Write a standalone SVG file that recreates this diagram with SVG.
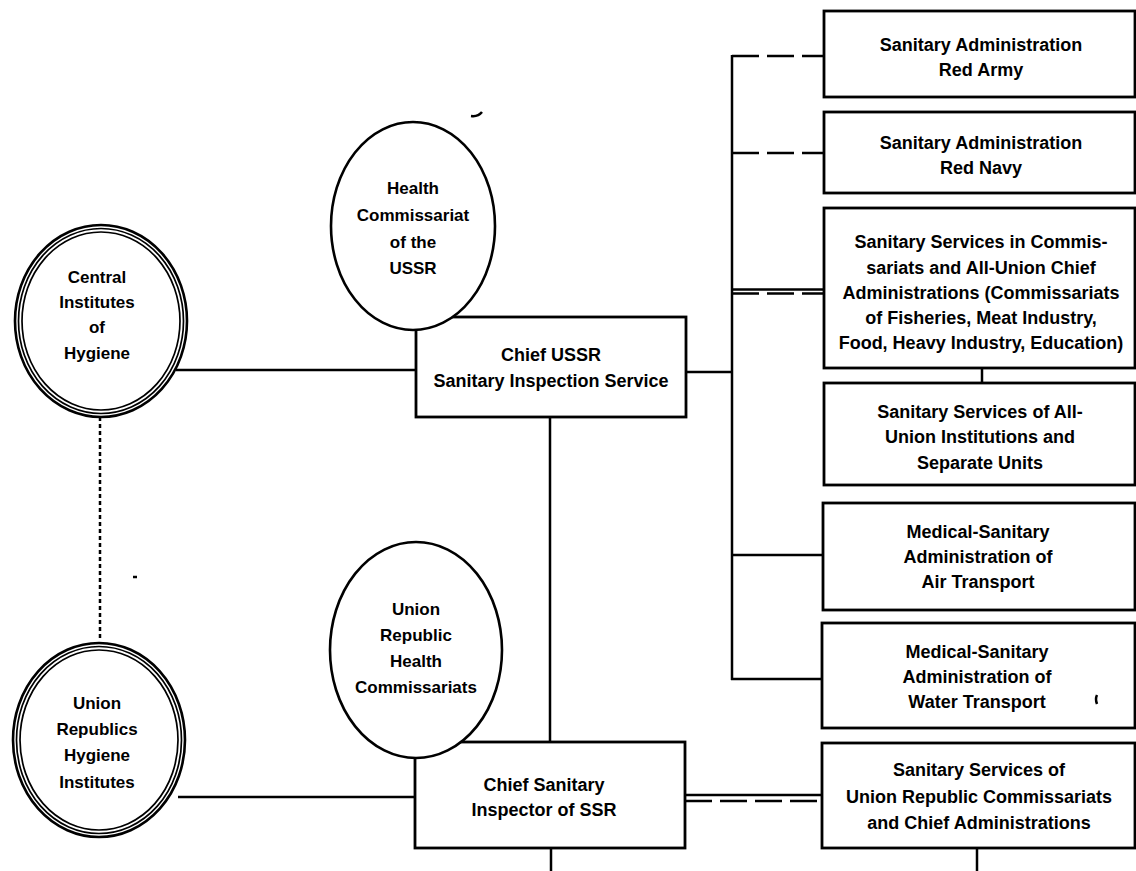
<svg xmlns="http://www.w3.org/2000/svg" width="1136" height="871" viewBox="0 0 1136 871">
<style>
  .ln { stroke:#000; stroke-width:2.5; fill:none; }
  .dash { stroke:#000; stroke-width:2.5; fill:none; stroke-dasharray:27 8; }
  .dot { stroke:#000; stroke-width:2.5; fill:none; stroke-dasharray:4 3; }
  .box { stroke:#000; stroke-width:2.8; fill:#fff; }
  .circ { stroke:#000; stroke-width:2.6; fill:#fff; }
  .ring { stroke:#000; stroke-width:1.7; fill:none; }
  .t { font-family:"Liberation Sans", Arial, sans-serif; font-weight:bold; font-size:18px; fill:#000; text-anchor:middle; }
  .tc { font-family:"Liberation Sans", Arial, sans-serif; font-weight:bold; font-size:17px; fill:#000; text-anchor:middle; }
</style>
<rect width="1136" height="871" fill="#fff"/>
<g id="connectors">
  <line class="ln" x1="176" y1="370" x2="416" y2="370"/>
  <line class="ln" x1="686" y1="372" x2="732" y2="372"/>
  <line class="ln" x1="732" y1="55" x2="732" y2="680"/>
  <line class="dash" x1="732" y1="56" x2="824" y2="56"/>
  <line class="dash" x1="732" y1="153" x2="824" y2="153" stroke-dasharray="22 10 4 5 20 8"/>
  <line class="ln" x1="732" y1="289.5" x2="824" y2="289.5" stroke-width="1.8"/>
  <line class="dash" x1="732" y1="293.5" x2="824" y2="293.5" stroke-width="2" stroke-dasharray="20 6"/>
  <line class="ln" x1="982" y1="368" x2="982" y2="383"/>
  <line class="ln" x1="732" y1="555" x2="824" y2="555"/>
  <line class="ln" x1="731" y1="679" x2="824" y2="679"/>
  <line class="ln" x1="550" y1="417" x2="550" y2="742"/>
  <line class="dot" x1="100" y1="417" x2="100" y2="641"/>
  <line class="ln" x1="178" y1="797" x2="415" y2="797"/>
  <line class="ln" x1="685" y1="795" x2="824" y2="795" stroke-width="1.8"/>
  <line class="dash" x1="685" y1="801" x2="824" y2="801" stroke-width="2" stroke-dasharray="14 5"/>
  <line class="ln" x1="551" y1="848" x2="551" y2="871"/>
  <line class="ln" x1="977" y1="848" x2="977" y2="871"/>
</g>
<g id="box-red-army">
  <rect class="box" x="824" y="11" width="311" height="86"/>
  <text class="t" x="981" y="51">Sanitary Administration</text>
  <text class="t" x="981" y="76">Red Army</text>
</g>
<g id="box-red-navy">
  <rect class="box" x="824" y="112" width="311" height="81"/>
  <text class="t" x="981" y="149">Sanitary Administration</text>
  <text class="t" x="981" y="174">Red Navy</text>
</g>
<g id="box-commissariats">
  <rect class="box" x="824" y="208" width="311" height="160"/>
  <text class="t" x="981" y="248">Sanitary Services in Commis-</text>
  <text class="t" x="981" y="274">sariats and All-Union Chief</text>
  <text class="t" x="981" y="299">Administrations (Commissariats</text>
  <text class="t" x="981" y="324">of Fisheries, Meat Industry,</text>
  <text class="t" x="981" y="349">Food, Heavy Industry, Education)</text>
</g>
<g id="box-all-union">
  <rect class="box" x="824" y="383" width="311" height="102"/>
  <text class="t" x="980" y="418">Sanitary Services of All-</text>
  <text class="t" x="980" y="443">Union Institutions and</text>
  <text class="t" x="980" y="469">Separate Units</text>
</g>
<g id="box-air">
  <rect class="box" x="823" y="503" width="312" height="107"/>
  <text class="t" x="978" y="538">Medical-Sanitary</text>
  <text class="t" x="978" y="563">Administration of</text>
  <text class="t" x="978" y="588">Air Transport</text>
</g>
<g id="box-water">
  <rect class="box" x="822" y="623" width="313" height="105"/>
  <text class="t" x="977" y="658">Medical-Sanitary</text>
  <text class="t" x="977" y="683">Administration of</text>
  <text class="t" x="977" y="708">Water Transport</text>
  <path class="ln" d="M1097 695 q-2 4 0 9" stroke-width="1.8"/>
</g>
<g id="box-union-republic-services">
  <rect class="box" x="822" y="743" width="313" height="105"/>
  <text class="t" x="979" y="776">Sanitary Services of</text>
  <text class="t" x="979" y="803">Union Republic Commissariats</text>
  <text class="t" x="979" y="829">and Chief Administrations</text>
</g>
<g id="box-chief-ussr">
  <rect class="box" x="416" y="317" width="270" height="100"/>
  <text class="t" x="551" y="361">Chief USSR</text>
  <text class="t" x="551" y="387">Sanitary Inspection Service</text>
</g>
<g id="box-chief-ssr">
  <rect class="box" x="415" y="742" width="270" height="106"/>
  <text class="t" x="544" y="791">Chief Sanitary</text>
  <text class="t" x="544" y="816">Inspector of SSR</text>
</g>
<g id="circle-health-ussr">
  <ellipse class="circ" cx="413" cy="226" rx="82" ry="104"/>
  <text class="tc" x="413" y="194">Health</text>
  <text class="tc" x="413" y="221">Commissariat</text>
  <text class="tc" x="413" y="248">of the</text>
  <text class="tc" x="413" y="274">USSR</text>
  <path class="ln" d="M471 116 q7 1 11 -4" stroke-width="2"/>
</g>
<g id="circle-union-republic-health">
  <ellipse class="circ" cx="416" cy="650" rx="86" ry="108"/>
  <text class="tc" x="416" y="615">Union</text>
  <text class="tc" x="416" y="641">Republic</text>
  <text class="tc" x="416" y="667">Health</text>
  <text class="tc" x="416" y="693">Commissariats</text>
</g>
<g id="circle-central-institutes">
  <ellipse class="circ" cx="101" cy="321" rx="86" ry="96" stroke-width="2.4"/>
  <ellipse class="ring" cx="101" cy="321" rx="82.5" ry="92.5"/>
  <ellipse class="ring" cx="101" cy="321" rx="79" ry="89"/>
  <text class="tc" x="97" y="283">Central</text>
  <text class="tc" x="97" y="308">Institutes</text>
  <text class="tc" x="97" y="333">of</text>
  <text class="tc" x="97" y="359">Hygiene</text>
</g>
<g id="circle-union-republics-hygiene">
  <ellipse class="circ" cx="99" cy="740" rx="86" ry="97" stroke-width="2.4"/>
  <ellipse class="ring" cx="99" cy="740" rx="82.5" ry="93.5"/>
  <ellipse class="ring" cx="99" cy="740" rx="79" ry="90"/>
  <text class="tc" x="97" y="709">Union</text>
  <text class="tc" x="97" y="735">Republics</text>
  <text class="tc" x="97" y="761">Hygiene</text>
  <text class="tc" x="97" y="788">Institutes</text>
</g>
<line class="ln" x1="133" y1="577" x2="137" y2="577" stroke-width="1.5"/>
</svg>
